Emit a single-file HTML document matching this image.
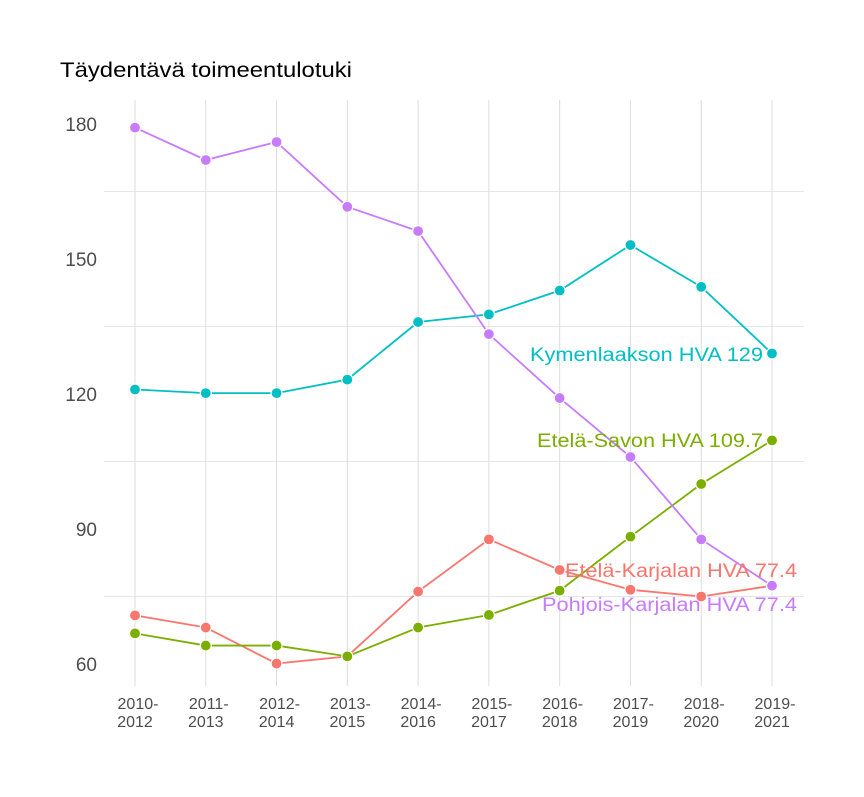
<!DOCTYPE html>
<html><head><meta charset="utf-8"><style>
body{margin:0;background:#fff;font-family:"Liberation Sans",sans-serif;}
</style></head><body>
<svg id="chart" width="864" height="792" xmlns="http://www.w3.org/2000/svg">
<rect width="864" height="792" fill="#fff"/>
<text x="60" y="77" font-size="21" fill="#000" textLength="292" lengthAdjust="spacingAndGlyphs">Täydentävä toimeentulotuki</text>
<g id="grid"></g><g id="series"></g><g id="labels"></g>
</svg>
<script>
const categories=["2010-2012","2011-2013","2012-2014","2013-2015","2014-2016","2015-2017","2016-2018","2017-2019","2018-2020","2019-2021"];
const yTicks=[60,90,120,150,180];
const yMinor=[75,105,135,165];
const names=["Pohjois-Karjalan HVA","Kymenlaakson HVA","Etelä-Savon HVA","Etelä-Karjalan HVA"];
const colors=["#C77CFF","#00BFC4","#7CAE00","#F8766D"];
const pohjois=[179.2,172,176,161.6,156.2,133.3,119.1,106,87.7,77.4];
const kymen=[121,120.2,120.2,123.2,136,137.7,143,153.1,143.8,129];
const savo=[66.8,64.1,64.1,61.7,68.1,70.9,76.3,88.3,100,109.7];
const karjala=[70.8,68.1,60.1,61.7,76.1,87.7,80.9,76.5,75,77.4];
const labelTexts=["77.4","129","109.7","77.4"];
const series=[pohjois,kymen,savo,karjala];
const labelY=[604,354,440,570];
const labelEnd=[797,763,763,797];
const labelLen=[255,233,226,232];
const NS="http://www.w3.org/2000/svg";
const x=i=>135+i*(772-135)/(categories.length-1);
const y=v=>664-(v-60)*4.5;
function mk(t,a,p){const e=document.createElementNS(NS,t);for(const k in a)e.setAttribute(k,a[k]);p.appendChild(e);return e;}
const grid=document.getElementById('grid');
yMinor.forEach(v=>{const l=mk('line',{x1:104,x2:804,y1:y(v),y2:y(v),stroke:'#e6e6e6','stroke-width':1},grid);

});
categories.forEach((c,i)=>{const l=mk('line',{x1:x(i),x2:x(i),y1:100,y2:686,stroke:'#dcdcdc','stroke-width':1},grid);


const parts=c.split('-');
const t=mk('text',{x:x(i),y:709,'font-size':16,fill:'#4d4d4d','text-anchor':'middle'},grid);


const s1=mk('tspan',{x:x(i)+3},t);s1.textContent=parts[0]+'-';
const s2=mk('tspan',{x:x(i),dy:18},t);s2.textContent=parts[1];});
yTicks.forEach(v=>{const t=mk('text',{x:97,y:y(v)+7,'font-size':19,fill:'#4d4d4d','text-anchor':'end'},grid);


t.textContent=v;});
const sg=document.getElementById('series');
[3,2,1,0].forEach(k=>{const d=series[k];
const p=mk('polyline',{points:d.map((v,i)=>x(i)+','+y(v)).join(' '),fill:'none',stroke:colors[k],'stroke-width':1.8},sg);


d.forEach((v,i)=>{const c=mk('circle',{cx:x(i),cy:y(v),r:5.5,fill:colors[k],stroke:'#fff','stroke-width':1.2},sg);

});});
const lg=document.getElementById('labels');
[1,2,3,0].forEach(k=>{const t=mk('text',{x:labelEnd[k]-labelLen[k],y:labelY[k]+7,'font-size':19,fill:colors[k],textLength:labelLen[k],lengthAdjust:'spacingAndGlyphs'},lg);


t.textContent=names[k]+' '+labelTexts[k];});
</script>
</body></html>
